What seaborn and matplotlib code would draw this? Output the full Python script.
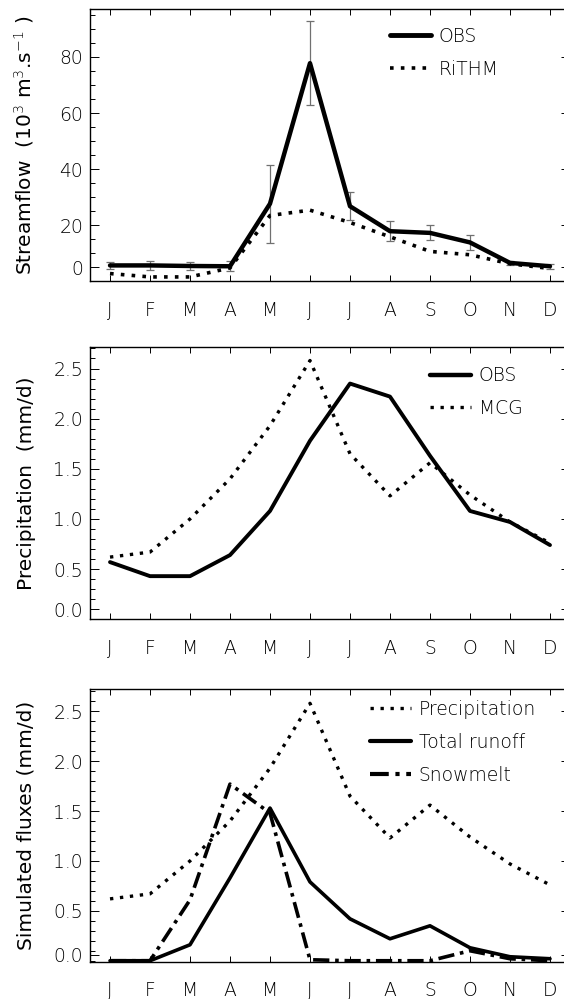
import numpy as np
import pandas as pd
import matplotlib.pyplot as plt
from matplotlib.lines import Line2D
from matplotlib.ticker import MultipleLocator
import seaborn as sns

# Month labels
months = ['J', 'F', 'M', 'A', 'M', 'J', 'J', 'A', 'S', 'O', 'N', 'D']
month_idx = np.arange(12)

# Streamflow (10^3 m3/s)
flow_obs = [5.7, 5.7, 5.5, 5.4, 27.7, 77.8, 26.8, 17.9, 17.3, 13.9, 6.6, 5.4]
flow_err = [1.3, 1.5, 1.5, 1.8, 13.9, 14.9, 5.0, 3.5, 2.7, 2.6, 0.8, 0.9]
flow_rithm = [2.8, 1.6, 1.6, 4.8, 23.5, 25.4, 21.0, 15.9, 10.7, 9.5, 6.3, 4.6]

# Precipitation (mm/d)
precip_obs = [0.57, 0.43, 0.43, 0.64, 1.08, 1.78, 2.35, 2.22, 1.63, 1.08, 0.97, 0.74]
precip_mcg = [0.62, 0.67, 1.0, 1.4, 1.93, 2.58, 1.65, 1.23, 1.56, 1.24, 0.97, 0.76]

# Simulated fluxes (mm/d)
runoff = [0.0, 0.0, 0.16, 0.83, 1.53, 0.79, 0.42, 0.22, 0.35, 0.13, 0.04, 0.02]
snowmelt = [0.0, 0.0, 0.61, 1.77, 1.48, 0.01, 0.0, 0.0, 0.0, 0.1, 0.02, 0.0]

df = pd.DataFrame({'month': month_idx, 'flow_obs': flow_obs, 'flow_rithm': flow_rithm,
                   'precip_obs': precip_obs, 'precip_mcg': precip_mcg,
                   'runoff': runoff, 'snowmelt': snowmelt})

#%%

sns.set_style('ticks')
plt.rcParams['font.family'] = ['DejaVu Sans']
plt.rcParams['font.weight'] = 'light'
plt.rcParams['font.size'] = 13
plt.rcParams['text.color'] = 'black'
plt.rcParams['xtick.color'] = 'black'
plt.rcParams['ytick.color'] = 'black'
plt.rcParams['axes.labelcolor'] = 'black'

dotted = (0, (1, 2))
dashdot = (0, (4.5, 1.6, 1, 1.6))

fig = plt.figure(figsize=(5.64, 9.99), dpi=100)
ax1 = fig.add_axes([0.1596, 0.7183, 0.851, 0.2724])
ax2 = fig.add_axes([0.1596, 0.3801, 0.851, 0.2721])
ax3 = fig.add_axes([0.1596, 0.0373, 0.851, 0.2727])


def style_axis(ax, ylim, yticks, ylabels, minor, ylabel):
    'Common IDL-like axis styling'
    ax.set_xlim(-0.5, 11.5)
    ax.set_ylim(*ylim)
    ax.set_xticks(month_idx)
    ax.set_xticklabels(months)
    ax.set_yticks(yticks)
    ax.set_yticklabels(ylabels)
    ax.yaxis.set_minor_locator(MultipleLocator(minor))
    ax.tick_params(axis='x', direction='in', top=True, length=4.3, width=0.7,
                   pad=14, labelsize=13.5)
    ax.tick_params(axis='y', which='major', direction='in', right=True,
                   length=6.5, width=0.7, pad=5, labelsize=13.5)
    ax.tick_params(axis='y', which='minor', direction='in', right=True,
                   length=3.6, width=0.7)
    for s in ax.spines.values():
        s.set_linewidth(1.0)
        s.set_color('black')
    ax.set_xlabel('')
    ax.set_ylabel(ylabel, fontsize=14.5)
    ax.yaxis.set_label_coords(-0.113, 0.5)


# Panel 1: streamflow
ax1.errorbar(month_idx, flow_obs, yerr=flow_err, fmt='none', ecolor='#707070',
             elinewidth=0.9, capsize=3, capthick=0.9, zorder=1)
sns.lineplot(data=df, x='month', y='flow_obs', ax=ax1, color='black', lw=3.2, zorder=3)
sns.lineplot(data=df, x='month', y='flow_rithm', ax=ax1, color='black', lw=2.6,
             linestyle=dotted, zorder=2)
# the lowest labelled tick of the original sits at 5 but reads "0"
style_axis(ax1, (0, 97), [5, 20, 40, 60, 80], ['0', '20', '40', '60', '80'], 5,
           'Streamflow  (10$^{3}$ m$^{3}$.s$^{-1}$ )')
ax1.legend(handles=[Line2D([], [], color='black', lw=3.5),
                    Line2D([], [], color='black', lw=2.6, linestyle=dotted)],
           labels=['OBS', 'RiTHM'], loc='upper left', bbox_to_anchor=(0.625, 0.935),
           frameon=False, borderaxespad=0, borderpad=0, handlelength=2.2,
           handletextpad=0.4, labelspacing=0.75, fontsize=13.5)

# Panel 2: precipitation
sns.lineplot(data=df, x='month', y='precip_obs', ax=ax2, color='black', lw=2.8, zorder=3)
sns.lineplot(data=df, x='month', y='precip_mcg', ax=ax2, color='black', lw=2.4,
             linestyle=dotted, zorder=2)
style_axis(ax2, (0, 2.71), [0.1, 0.5, 1.0, 1.5, 2.0, 2.5],
           ['0.0', '0.5', '1.0', '1.5', '2.0', '2.5'], 0.1, 'Precipitation  (mm/d)')
ax2.legend(handles=[Line2D([], [], color='black', lw=3.2),
                    Line2D([], [], color='black', lw=2.4, linestyle=dotted)],
           labels=['OBS', 'MCG'], loc='upper left', bbox_to_anchor=(0.708, 0.93),
           frameon=False, borderaxespad=0, borderpad=0, handlelength=2.2,
           handletextpad=0.4, labelspacing=0.72, fontsize=13.5)

# Panel 3: simulated fluxes
sns.lineplot(data=df, x='month', y='precip_mcg', ax=ax3, color='black', lw=2.4,
             linestyle=dotted)
sns.lineplot(data=df, x='month', y='runoff', ax=ax3, color='black', lw=2.6)
sns.lineplot(data=df, x='month', y='snowmelt', ax=ax3, color='black', lw=2.6,
             linestyle=dashdot)
style_axis(ax3, (-0.01, 2.72), [0.06, 0.5, 1.0, 1.5, 2.0, 2.5],
           ['0.0', '0.5', '1.0', '1.5', '2.0', '2.5'], 0.1, 'Simulated fluxes (mm/d)')
for line in ax3.lines:
    line.set_clip_on(False)
ax3.legend(handles=[Line2D([], [], color='black', lw=2.4, linestyle=dotted),
                    Line2D([], [], color='black', lw=3.0),
                    Line2D([], [], color='black', lw=3.0, linestyle=dashdot)],
           labels=['Precipitation', 'Total runoff', 'Snowmelt'], loc='upper left',
           bbox_to_anchor=(0.583, 0.962), frameon=False, borderaxespad=0, borderpad=0,
           handlelength=2.2, handletextpad=0.4, labelspacing=0.75, fontsize=13.5)

fig.savefig('out.png', dpi=100)
